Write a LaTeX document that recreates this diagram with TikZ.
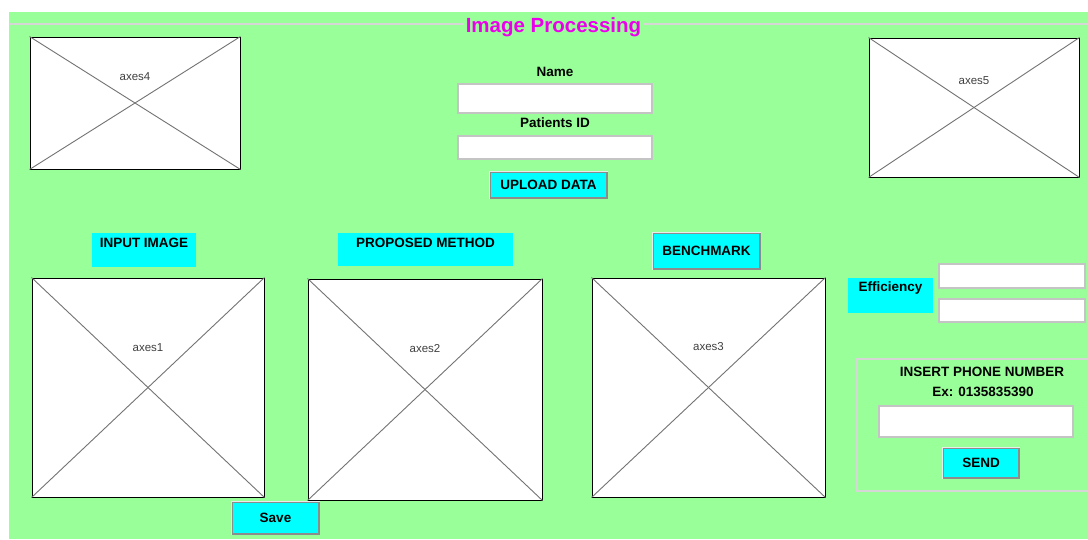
\documentclass[tikz,border=0pt]{standalone}
\usepackage{fontspec}
\setmainfont{Liberation Sans}
\usetikzlibrary{positioning}

\definecolor{panelgreen}{RGB}{153,255,153}
\definecolor{btncyan}{RGB}{0,255,255}
\definecolor{framegray}{RGB}{214,214,214}
\definecolor{editgray}{RGB}{196,196,196}
\definecolor{titlemagenta}{RGB}{236,0,236}

\begin{document}
\begin{tikzpicture} [x=1pt, y=-1pt,
            on grid,
            font=\fontsize{13.5}{16}\selectfont\bfseries,
            axesbox/.style={draw=black, fill=white, line width=1pt, inner sep=0pt},
            axeslabel/.style={font=\fontsize{11.5}{13}\selectfont, text=black!75},
            diagonal/.style={draw=black!55, line width=0.9pt},
            editbox/.style={draw=editgray, fill=white, line width=1.2pt, inner sep=0pt},
            pushbutton/.style={draw=black!45, fill=btncyan, line width=1.2pt, inner sep=0pt},
            btnlight/.style={draw=white!92!black, line width=1.2pt},
            statictext/.style={fill=btncyan, inner sep=0pt}]

        % Window and panel background
        \clip (0,0) rectangle (1088,539);
        \fill[white] (0,0) rectangle (1088,539);
        \fill[panelgreen] (9,12) rectangle (1088,539);

        % Panel title with its frame line
        \coordinate (frameL) at (9,24);
        \coordinate (frameR) at (1088,24);
        \node (title) [font=\fontsize{20.5}{24}\selectfont\bfseries,
            text=titlemagenta, inner xsep=3pt] at (553.5,27) {Image Processing};
        \draw[framegray, line width=2pt]
            (frameL) -- (frameL -| title.west)
            (frameR -| title.east) -- (frameR);

        % Small axes at the top
        \node (ax4) [axesbox, minimum width=210pt, minimum height=132pt] at (135,103) {};
        \node (ax5) [axesbox, minimum width=210pt, minimum height=139pt] at (974,107.5) {};

        % Patient fields
        \node (nameEdit) [editbox, minimum width=194pt, minimum height=29pt] at (555,98.5) {};
        \node (nameLbl) [above = 26.5pt of nameEdit] {Name};
        \node (pidEdit) [editbox, minimum width=194pt, minimum height=23pt] at (555,147.5) {};
        \node (pidLbl) [above = 24.5pt of pidEdit] {Patients ID};
        \node (upload) [pushbutton, minimum width=117pt, minimum height=26pt] at (548.5,185) {UPLOAD DATA};

        % Big axes
        \node (ax1) [axesbox, minimum width=232pt, minimum height=219pt] at (148,387.5) {};
        \node (ax2) [axesbox, minimum width=234pt, minimum height=221pt] at (425,389.5) {};
        \node (ax3) [axesbox, minimum width=233pt, minimum height=219pt] at (708.5,387.5) {};

        % Diagonals of the axes
        \path [diagonal]
            (ax4.north west) edge (ax4.south east)
            (ax4.south west) edge (ax4.north east)
            (ax5.north west) edge (ax5.south east)
            (ax5.south west) edge (ax5.north east)
            (ax1.north west) edge (ax1.south east)
            (ax1.south west) edge (ax1.north east)
            (ax2.north west) edge (ax2.south east)
            (ax2.south west) edge (ax2.north east)
            (ax3.north west) edge (ax3.south east)
            (ax3.south west) edge (ax3.north east);

        % Axes names
        \node (ax4Lbl) [axeslabel, above = 26pt of ax4] {axes4};
        \node (ax5Lbl) [axeslabel, above = 27pt of ax5] {axes5};
        \node (ax1Lbl) [axeslabel, above = 40pt of ax1] {axes1};
        \node (ax2Lbl) [axeslabel, above = 40.5pt of ax2] {axes2};
        \node (ax3Lbl) [axeslabel, above = 40.5pt of ax3] {axes3};

        % Headings over the big axes
        \node (inputTxt) [statictext, minimum width=104pt, minimum height=34pt,
            label={[anchor=north, inner sep=0pt, yshift=-4.6pt]north:INPUT IMAGE}] at (144,250) {};
        \node (methodTxt) [statictext, minimum width=175pt, minimum height=33pt,
            label={[anchor=north, inner sep=0pt, yshift=-4.6pt]north:PROPOSED METHOD}] at (425.5,249.5) {};
        \node (bench) [pushbutton, minimum width=107pt, minimum height=36pt] at (706.5,251) {BENCHMARK};

        % Efficiency
        \node (effTxt) [statictext, minimum width=85pt, minimum height=35pt,
            label={[anchor=north, inner sep=0pt, yshift=-4pt]north:Efficiency}] at (890.5,295.5) {};
        \node (effEdit1) [editbox, minimum width=146pt, minimum height=24pt] at (1012,276) {};
        \node (effEdit2) [editbox, minimum width=146pt, minimum height=23pt] at (1012,310.5) {};

        % Phone number panel
        \node (phonePanel) [draw=framegray, line width=2pt, inner sep=0pt,
            minimum width=240pt, minimum height=132pt] at (977,425) {};
        \node (phoneEdit) [editbox, minimum width=194pt, minimum height=31pt] at (976,421.5) {};
        \node (exLbl) [above = 29.5pt of phoneEdit, xshift=7pt] {Ex: 0135835390};
        \node (phoneLbl) [above = 20pt of exLbl, xshift=-1pt] {INSERT PHONE NUMBER};
        \node (send) [pushbutton, minimum width=76pt, minimum height=30pt] at (981,463) {SEND};

        % Save button
        \node (save) [pushbutton, minimum width=87pt, minimum height=32pt] at (275.5,518) {Save};

        % Light edges of the buttons
        \path [btnlight]
            (upload.south west) edge[to path={|- (\tikztotarget)}] (upload.north east)
            (bench.south west) edge[to path={|- (\tikztotarget)}] (bench.north east)
            (send.south west) edge[to path={|- (\tikztotarget)}] (send.north east)
            (save.south west) edge[to path={|- (\tikztotarget)}] (save.north east);
        \end{tikzpicture}
\end{document}
